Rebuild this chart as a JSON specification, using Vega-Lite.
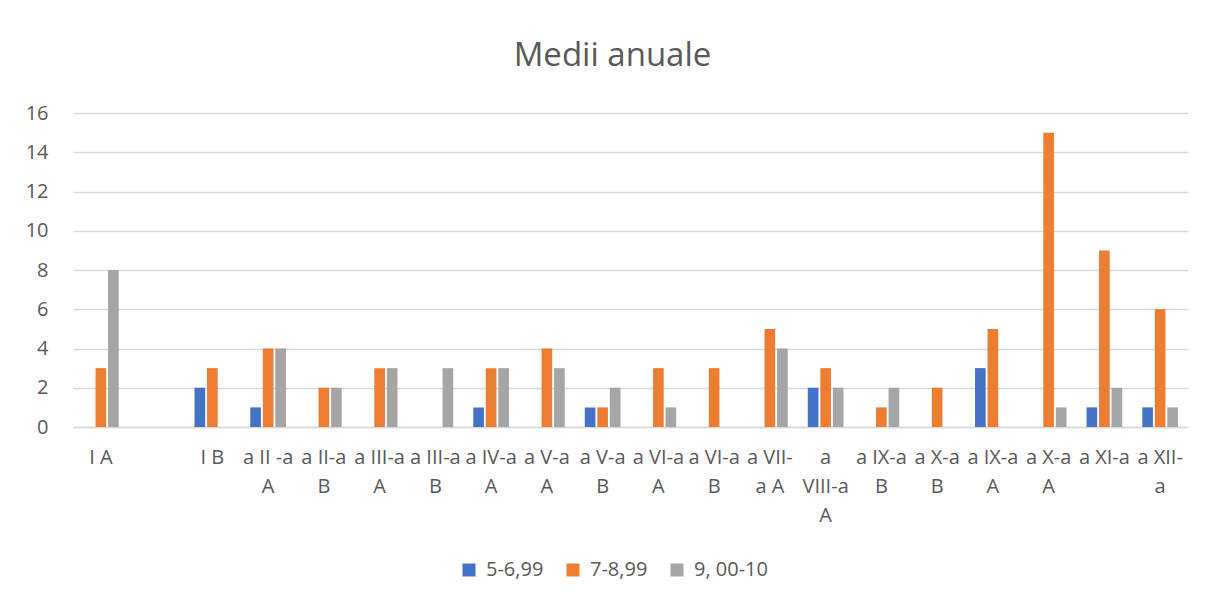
{
  "$schema": "https://vega.github.io/schema/vega-lite/v6.json",
  "width": 1115,
  "height": 314,
  "autosize": {"type": "none"},
  "padding": {"left": 73, "top": 113, "right": 17, "bottom": 173},
  "background": "white",
  "title": {
    "text": "Medii anuale",
    "font": "Open Sans",
    "fontSize": 33,
    "fontWeight": "normal",
    "color": "#595959",
    "anchor": "middle",
    "offset": 30,
    "dx": -18
  },
  "config": {
    "view": {"stroke": null},
    "font": "Open Sans"
  },
  "data": {
    "values": [
      {"clasa": "I A", "grupa": "7-8,99", "valoare": 3},
      {"clasa": "I A", "grupa": "9, 00-10", "valoare": 8},
      {"clasa": "I B", "grupa": "5-6,99", "valoare": 2},
      {"clasa": "I B", "grupa": "7-8,99", "valoare": 3},
      {"clasa": "a II -a\nA", "grupa": "5-6,99", "valoare": 1},
      {"clasa": "a II -a\nA", "grupa": "7-8,99", "valoare": 4},
      {"clasa": "a II -a\nA", "grupa": "9, 00-10", "valoare": 4},
      {"clasa": "a II-a\nB", "grupa": "7-8,99", "valoare": 2},
      {"clasa": "a II-a\nB", "grupa": "9, 00-10", "valoare": 2},
      {"clasa": "a III-a\nA", "grupa": "7-8,99", "valoare": 3},
      {"clasa": "a III-a\nA", "grupa": "9, 00-10", "valoare": 3},
      {"clasa": "a III-a\nB", "grupa": "9, 00-10", "valoare": 3},
      {"clasa": "a IV-a\nA", "grupa": "5-6,99", "valoare": 1},
      {"clasa": "a IV-a\nA", "grupa": "7-8,99", "valoare": 3},
      {"clasa": "a IV-a\nA", "grupa": "9, 00-10", "valoare": 3},
      {"clasa": "a V-a\nA", "grupa": "7-8,99", "valoare": 4},
      {"clasa": "a V-a\nA", "grupa": "9, 00-10", "valoare": 3},
      {"clasa": "a V-a\nB", "grupa": "5-6,99", "valoare": 1},
      {"clasa": "a V-a\nB", "grupa": "7-8,99", "valoare": 1},
      {"clasa": "a V-a\nB", "grupa": "9, 00-10", "valoare": 2},
      {"clasa": "a VI-a\nA", "grupa": "7-8,99", "valoare": 3},
      {"clasa": "a VI-a\nA", "grupa": "9, 00-10", "valoare": 1},
      {"clasa": "a VI-a\nB", "grupa": "7-8,99", "valoare": 3},
      {"clasa": "a VII-\na A", "grupa": "7-8,99", "valoare": 5},
      {"clasa": "a VII-\na A", "grupa": "9, 00-10", "valoare": 4},
      {"clasa": "a\nVIII-a\nA", "grupa": "5-6,99", "valoare": 2},
      {"clasa": "a\nVIII-a\nA", "grupa": "7-8,99", "valoare": 3},
      {"clasa": "a\nVIII-a\nA", "grupa": "9, 00-10", "valoare": 2},
      {"clasa": "a IX-a\nB", "grupa": "7-8,99", "valoare": 1},
      {"clasa": "a IX-a\nB", "grupa": "9, 00-10", "valoare": 2},
      {"clasa": "a X-a\nB", "grupa": "7-8,99", "valoare": 2},
      {"clasa": "a IX-a\nA", "grupa": "5-6,99", "valoare": 3},
      {"clasa": "a IX-a\nA", "grupa": "7-8,99", "valoare": 5},
      {"clasa": "a X-a\nA", "grupa": "7-8,99", "valoare": 15},
      {"clasa": "a X-a\nA", "grupa": "9, 00-10", "valoare": 1},
      {"clasa": "a XI-a", "grupa": "5-6,99", "valoare": 1},
      {"clasa": "a XI-a", "grupa": "7-8,99", "valoare": 9},
      {"clasa": "a XI-a", "grupa": "9, 00-10", "valoare": 2},
      {"clasa": "a XII-\na", "grupa": "5-6,99", "valoare": 1},
      {"clasa": "a XII-\na", "grupa": "7-8,99", "valoare": 6},
      {"clasa": "a XII-\na", "grupa": "9, 00-10", "valoare": 1}
    ]
  },
  "mark": {"type": "bar"},
  "encoding": {
    "x": {
      "field": "clasa",
      "type": "nominal",
      "sort": null,
      "scale": {
        "domain": ["I A", " ", "I B", "a II -a\nA", "a II-a\nB", "a III-a\nA", "a III-a\nB", "a IV-a\nA", "a V-a\nA", "a V-a\nB", "a VI-a\nA", "a VI-a\nB", "a VII-\na A", "a\nVIII-a\nA", "a IX-a\nB", "a X-a\nB", "a IX-a\nA", "a X-a\nA", "a XI-a", "a XII-\na"],
        "paddingInner": 0.36,
        "paddingOuter": 0.18
      },
      "axis": {
        "title": null,
        "labelAngle": 0,
        "labelExpr": "split(datum.label, '\\n')",
        "labelFontSize": 20,
        "labelColor": "#595959",
        "labelLineHeight": 29,
        "labelPadding": 20,
        "labelBaseline": "top",
        "ticks": false,
        "domainColor": "#D9D9D9",
        "domainWidth": 1.5,
        "labelLimit": 0
      }
    },
    "xOffset": {
      "field": "grupa",
      "type": "nominal",
      "scale": {"domain": ["5-6,99", "7-8,99", "9, 00-10"], "paddingInner": 0.15}
    },
    "y": {
      "field": "valoare",
      "type": "quantitative",
      "scale": {"domain": [0, 16], "nice": false},
      "axis": {
        "title": null,
        "values": [0, 2, 4, 6, 8, 10, 12, 14, 16],
        "labelFontSize": 20,
        "labelColor": "#595959",
        "labelPadding": 25,
        "ticks": false,
        "domain": false,
        "gridColor": "#D9D9D9",
        "gridWidth": 1.5
      }
    },
    "color": {
      "field": "grupa",
      "type": "nominal",
      "scale": {"domain": ["5-6,99", "7-8,99", "9, 00-10"], "range": ["#4472C4", "#ED7D31", "#A5A5A5"]},
      "legend": {
        "title": null,
        "orient": "none",
        "legendX": 386,
        "legendY": 447,
        "direction": "horizontal",
        "symbolType": "square",
        "symbolSize": 169,
        "symbolStrokeWidth": 0,
        "labelFontSize": 20,
        "labelColor": "#595959",
        "columnPadding": 19,
        "labelOffset": 7
      }
    }
  }
}
